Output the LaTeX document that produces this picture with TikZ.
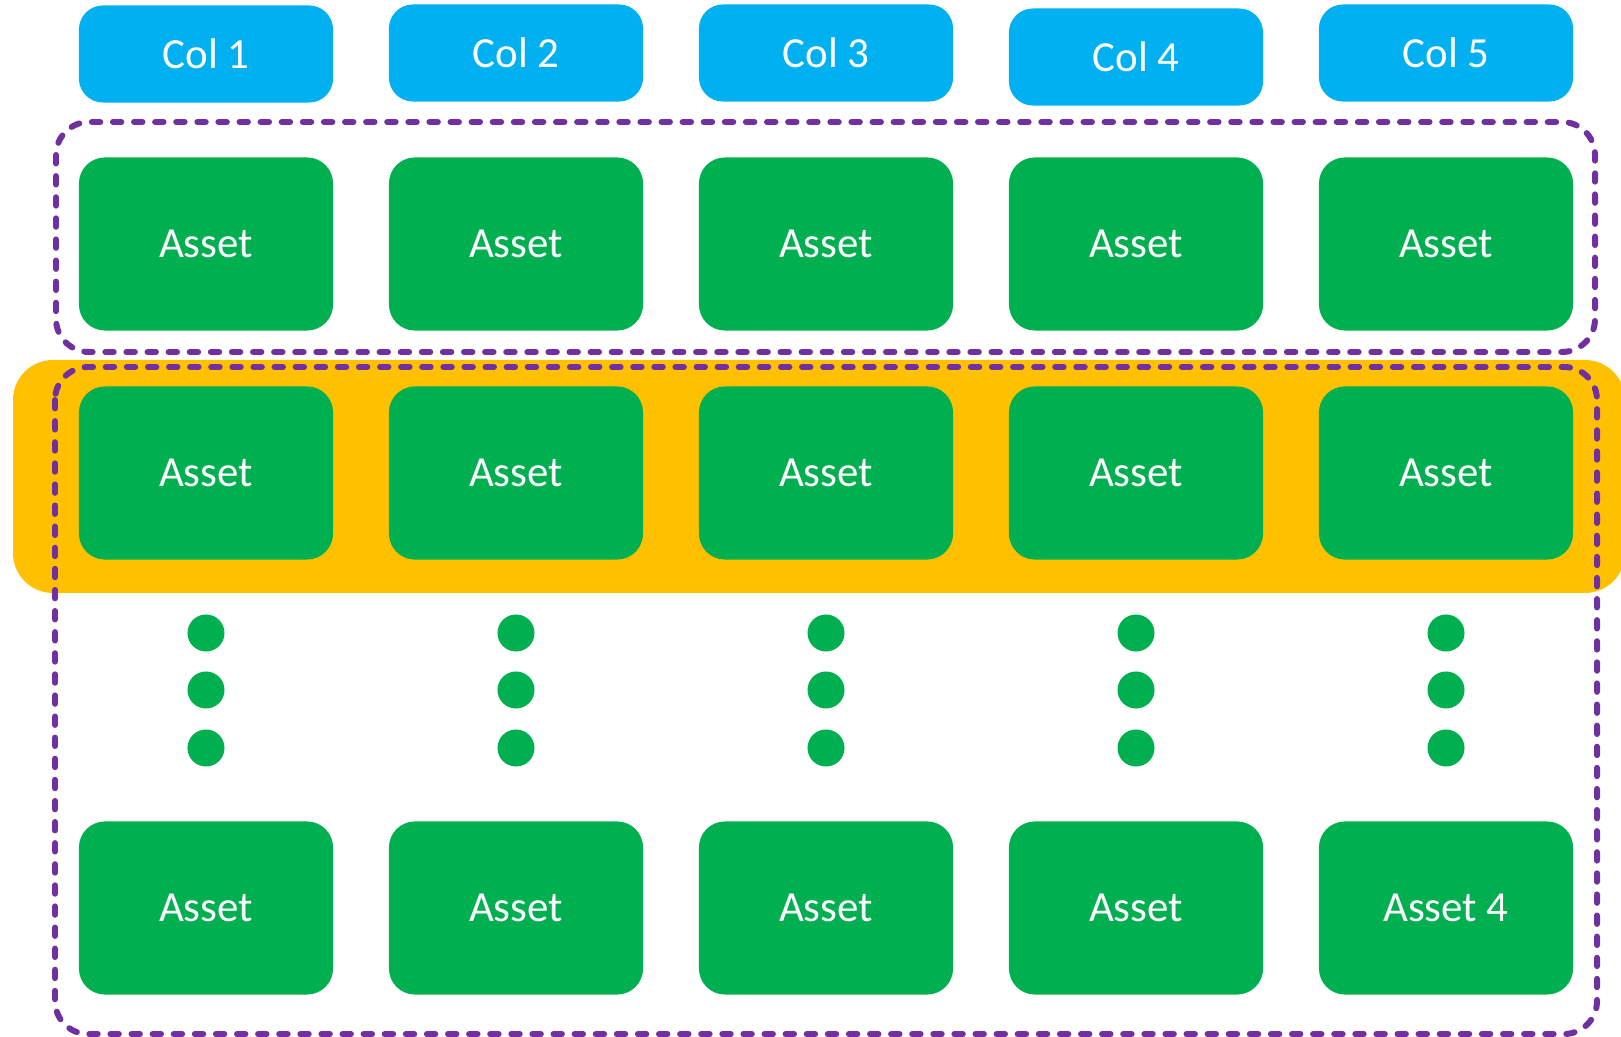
\documentclass[tikz,border=0pt]{standalone}
\usepackage{fontspec}
\setmainfont{Carlito}
\usepackage{tikz}
\usetikzlibrary{positioning}

\definecolor{hdrblue}{HTML}{00B0F0}
\definecolor{assetgreen}{HTML}{00B050}
\definecolor{bandorange}{HTML}{FFC000}
\definecolor{framepurple}{HTML}{7030A0}

\begin{document}
\begin{tikzpicture}[
  x=0.01cm, y=-0.01cm,
  header/.style={fill=hdrblue, rounded corners=0.24cm, minimum width=2.54cm, minimum height=0.97cm, text=white, font=\fontsize{12.2}{15}\selectfont},
  asset/.style={fill=assetgreen, rounded corners=0.26cm, minimum width=2.54cm, minimum height=1.73cm, text=white, font=\fontsize{12.2}{15}\selectfont},
  dotmark/.style={circle, fill=assetgreen, minimum size=0.37cm, inner sep=0pt},
  frame/.style={draw=framepurple, line width=1.7pt, dash pattern=on 2.4pt off 3.6pt, line cap=round, rounded corners=0.33cm},
]
\useasboundingbox (0,0) rectangle (1621,1037);

% --- Highlighted row ---
\fill[bandorange, rounded corners=0.4cm] (13,360) rectangle (1625,593);

% --- Dashed groups ---
\draw[frame] (56,122) rectangle (1595,352);
\draw[frame] (55,367) rectangle (1597,1034);

% --- Columns ---
\foreach \i/\x/\hy in {1/206/54, 2/516/53, 3/826/53, 4/1136/57, 5/1446/53} {
  \node[header] (col\i) at (\x,\hy) {Col \i};
  \node[asset] (top\i) at (\x,244) {Asset};
  \node[asset] (mid\i) at (\x,473) {Asset};
  \foreach \j/\y in {1/633, 2/690, 3/748}
    \node[dotmark] (dot\i-\j) at (\x,\y) {};
}
% bottom row
\foreach \i/\x in {1/206, 2/516, 3/826, 4/1136}
  \node[asset] (bot\i) at (\x,908) {Asset};
\node[asset] (bot5) at (1446,908) {Asset 4};

\end{tikzpicture}
\end{document}
